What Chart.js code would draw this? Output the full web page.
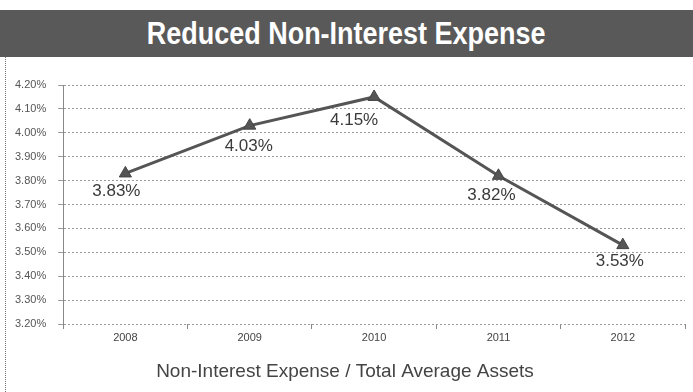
<!DOCTYPE html>
<html>
<head>
<meta charset="utf-8">
<script src="https://cdn.jsdelivr.net/npm/chart.js@4.4.1/dist/chart.umd.min.js"></script>
<style>
  html, body { margin: 0; padding: 0; background: #fff; }
  body { width: 693px; height: 392px; position: relative; overflow: hidden; }
  #banner {
    position: absolute; left: 0; top: 10px; width: 693px; height: 47px;
    background: #595959;
    color: #fff; text-align: center;
    font-family: "Liberation Sans", Arial, sans-serif;
    font-weight: bold; font-size: 31px; line-height: 47px;
  }
  #banner span { display: inline-block; transform: scaleX(0.87); }
  #frame { position: absolute; left: 5px; top: 57px; width: 0; height: 335px; border-left: 1px dotted #777; }
  #wrap { position: absolute; left: 3px; top: 57px; width: 690px; height: 335px; }
</style>
</head>
<body>
<div id="banner"><span>Reduced Non-Interest Expense</span></div>
<div id="frame"></div>
<div id="wrap"><canvas id="chart"></canvas></div>
<script>
// ---------- dados ----------
const years = ['2008', '2009', '2010', '2011', '2012'];
const expenseRatio = [3.83, 4.03, 4.15, 3.82, 3.53];
const axisTitle = 'Non-Interest Expense / Total Average Assets';

// rótulos de valor abaixo de cada ponto (deslocamentos só de estilo)
const pointLabels = {
  id: 'pointLabels',
  afterDatasetsDraw(chart) {
    const ctx = chart.ctx;
    const meta = chart.getDatasetMeta(0);
    const dx = [-9, -1, -20, -7, -3];
    const dy = [18, 21, 23, 19, 16];
    ctx.save();
    ctx.font = '17px "Liberation Sans", Arial, sans-serif';
    ctx.fillStyle = '#3a3a3a';
    ctx.textAlign = 'center';
    ctx.textBaseline = 'middle';
    meta.data.forEach((pt, i) => {
      ctx.fillText(expenseRatio[i].toFixed(2) + '%', pt.x + dx[i], pt.y + dy[i]);
    });
    ctx.restore();
  }
};

const ctx = document.getElementById('chart').getContext('2d');
new Chart(ctx, {
  type: 'line',
  data: {
    labels: years,
    datasets: [{
      data: expenseRatio,
      borderColor: '#555',
      borderWidth: 3,
      backgroundColor: '#555',
      pointStyle: 'triangle',
      pointRadius: 7,
      pointBorderWidth: 1,
      pointBorderColor: '#444',
      tension: 0
    }]
  },
  options: {
    responsive: true,
    maintainAspectRatio: false,
    animation: false,
    layout: { padding: { left: 0, right: 6, top: 28, bottom: 9 } },
    plugins: {
      legend: { display: false },
      tooltip: { enabled: false },
      title: {
        display: true,
        position: 'bottom',
        text: axisTitle,
        color: '#444',
        font: { family: '"Liberation Sans", Arial, sans-serif', size: 19, weight: 'normal' },
        padding: { top: 14, bottom: 0 }
      }
    },
    scales: {
      x: {
        offset: true,
        grid: { offset: true, drawOnChartArea: false, drawTicks: true, tickLength: 5, color: '#888' },
        border: { display: false },
        ticks: { color: '#444', font: { family: '"Liberation Sans", Arial, sans-serif', size: 11 }, padding: 2 }
      },
      y: {
        min: 3.2,
        max: 4.2,
        ticks: {
          stepSize: 0.1,
          color: '#555',
          padding: 12,
          font: { family: '"Liberation Sans", Arial, sans-serif', size: 11 },
          callback: v => v.toFixed(2) + '%'
        },
        grid: { color: '#9a9a9a', tickLength: 5 },
        border: { display: true, color: '#888', dash: [2, 2] }
      }
    }
  },
  plugins: [pointLabels]
});
</script>
</body>
</html>
